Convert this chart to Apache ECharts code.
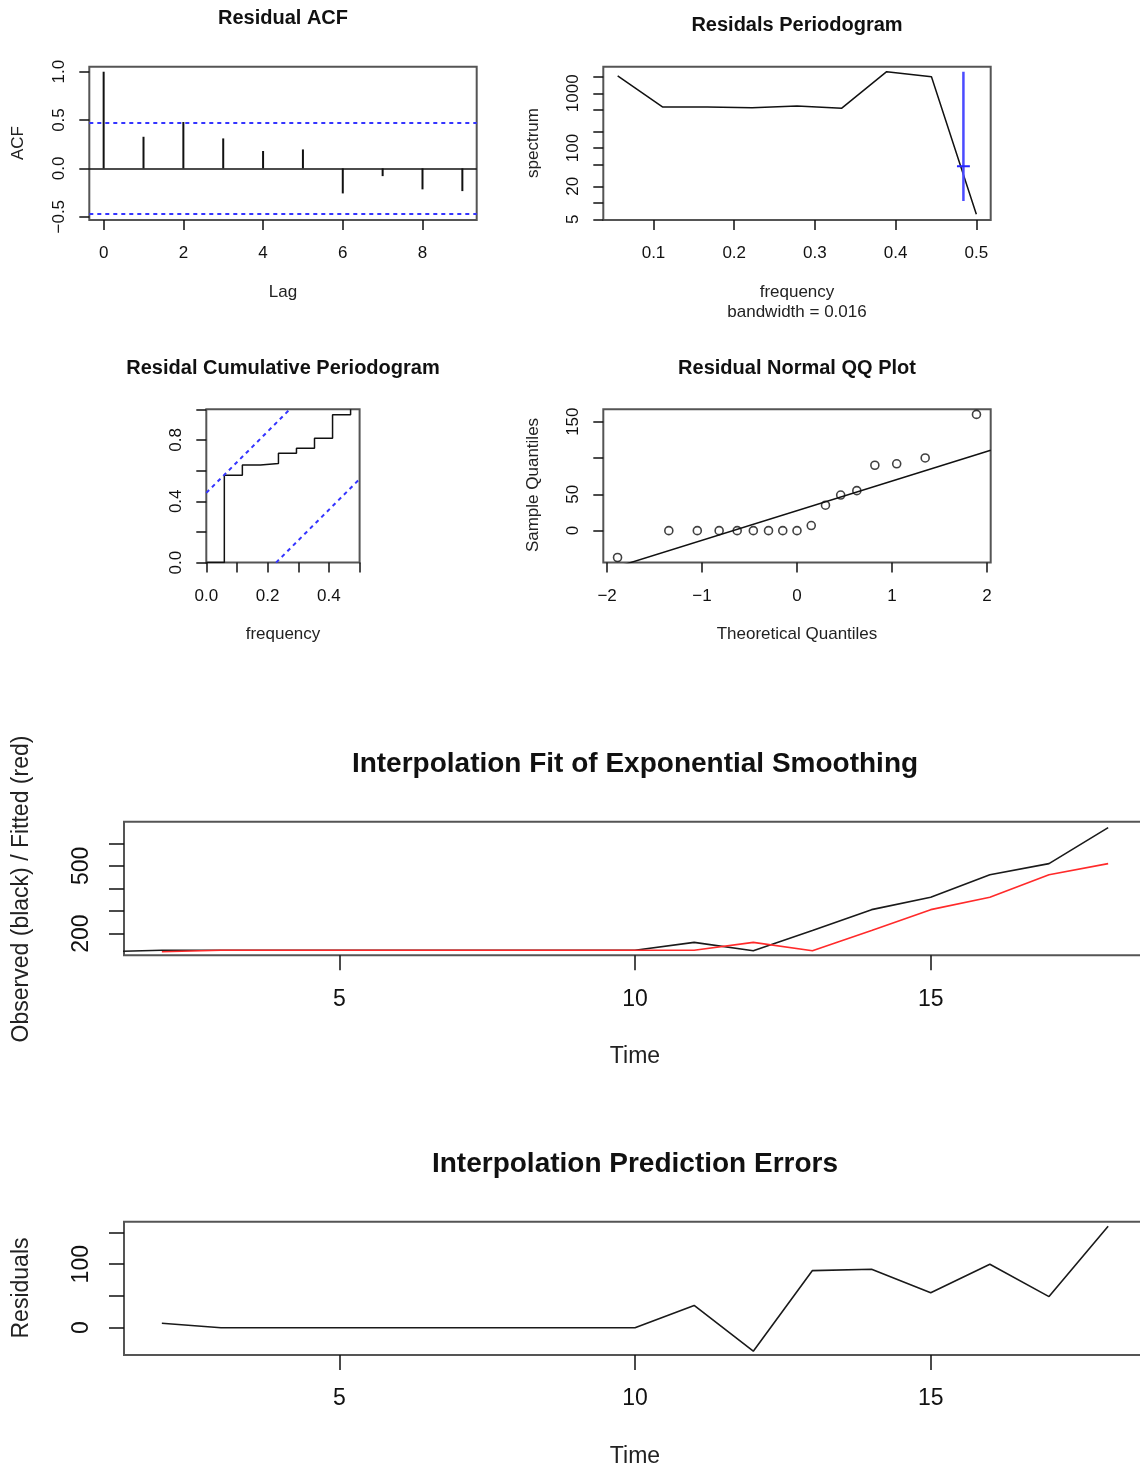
<!DOCTYPE html>
<html>
<head>
<meta charset="utf-8">
<script src="https://cdn.jsdelivr.net/npm/echarts@6/dist/echarts.min.js"></script>
<style>
  html, body { margin: 0; padding: 0; background: #ffffff; overflow: hidden; }
  /* the lower panels run slightly past the right edge of the page */
  #chart { width: 1160px; height: 1471px; }
</style>
</head>
<body>
<div id="chart"></div>
<script>
// ---- Residual autocorrelation ----
const acfLags = [0, 1, 2, 3, 4, 5, 6, 7, 8, 9];
const acfValues = [1.0, 0.327, 0.48, 0.31, 0.18, 0.196, -0.259, -0.08, -0.217, -0.235];
const acfBound = 0.475;
const acfXTicks = [0, 2, 4, 6, 8];
const acfYTicks = [-0.5, 0, 0.5, 1.0];

// ---- Raw periodogram (series padded to 18 points) ----
const pgramFreq = [0.0556, 0.1111, 0.1667, 0.2222, 0.2778, 0.3333, 0.3889, 0.4444, 0.5];
const pgramSpec = [2074, 565, 560, 545, 585, 535, 2484, 2014, 6.2];
const pgramBandFreq = [0.476, 0.484, 0.492];
const pgramBandSpec = [10.76, 46.6, 2484];
const pgramXTicks = [0.1, 0.2, 0.3, 0.4, 0.5];
const pgramYTicks = [5, 10, 20, 50, 100, 200, 500, 1000, 2000];
const pgramYLabels = [5, 20, 100, 1000];

// ---- Cumulative periodogram ----
const cpgFreq = [0, 0.0588, 0.1176, 0.1765, 0.2353, 0.2941, 0.3529, 0.4118, 0.4706];
const cpgCum = [0, 0.570, 0.636, 0.647, 0.713, 0.746, 0.811, 0.965, 1.0];
const cpgUpperX = [0, 0.2725];
const cpgUpperY = [0.455, 1.0];
const cpgLowerX = [0.2275, 0.5];
const cpgLowerY = [0, 0.545];
const cpgXTicks = [0, 0.1, 0.2, 0.3, 0.4, 0.5];
const cpgXLabels = [0, 0.2, 0.4];
const cpgYTicks = [0, 0.2, 0.4, 0.6, 0.8, 1.0];
const cpgYLabels = [0, 0.4, 0.8];

// ---- Normal QQ plot of residuals ----
const qqTheoretical = [-1.89, -1.35, -1.05, -0.82, -0.63, -0.46, -0.30, -0.15, 0, 0.15, 0.30, 0.46, 0.63, 0.82, 1.05, 1.35, 1.89];
const qqSample = [-37, 0, 0, 0, 0, 0, 0, 0, 0, 7, 35, 49, 55, 90, 92, 100, 160];
const qqLineX = [-2.04, 2.04];
const qqLineY = [-55.7, 110.7];
const qqXTicks = [-2, -1, 0, 1, 2];
const qqYTicks = [0, 50, 100, 150];
const qqYLabels = [0, 50, 150];

// ---- Observed vs fitted series ----
const obsTime = [1, 2, 3, 4, 5, 6, 7, 8, 9, 10, 11, 12, 13, 14, 15, 16, 17, 18];
const observed = [119, 126, 126, 126, 126, 126, 126, 126, 126, 126, 161, 124, 214, 306, 361, 461, 510, 670];
const fitTime = [2, 3, 4, 5, 6, 7, 8, 9, 10, 11, 12, 13, 14, 15, 16, 17, 18];
const fitted = [119, 126, 126, 126, 126, 126, 126, 126, 126, 126, 161, 124, 214, 306, 361, 461, 510];
const residuals = [7, 0, 0, 0, 0, 0, 0, 0, 0, 35, -37, 90, 92, 55, 100, 49, 160];
const timeTicks = [5, 10, 15];
const fitYTicks = [200, 300, 400, 500, 600];
const fitYLabels = [200, 500];
const resYTicks = [0, 50, 100, 150];
const resYLabels = [0, 100];

const FONT = '"Liberation Sans", Arial, sans-serif';
const INK = '#111111';
const BOX = '#555555';
const BLUE = '#3535ff';

const pair = (xs, ys) => xs.map((x, i) => [x, ys[i]]);
const minusFmt = d => v => {
  const s = d === null ? String(Math.round(v * 1000) / 1000) : v.toFixed(d);
  return s.replace('-', '\u2212');
};

function makeAxis(opt) {
  return {
    type: 'value',
    gridIndex: opt.grid,
    min: opt.min,
    max: opt.max,
    axisLine: { show: false, onZero: false },
    splitLine: { show: false },
    axisTick: {
      show: true,
      inside: false,
      length: opt.tickLen,
      customValues: opt.ticks,
      lineStyle: { color: INK, width: 1.5 }
    },
    axisLabel: {
      show: true,
      customValues: opt.labels || opt.ticks,
      margin: opt.margin,
      rotate: opt.rotate || 0,
      fontSize: opt.fontSize,
      fontFamily: FONT,
      color: INK,
      formatter: opt.formatter
    }
  };
}

const grids = [
  { left: 89.3, top: 66.7, width: 387.4, height: 153.3 },
  { left: 603.3, top: 66.7, width: 387.4, height: 153.3 },
  { left: 206.3, top: 409.3, width: 153.3, height: 153.3 },
  { left: 603.3, top: 409.3, width: 387.4, height: 153.3 },
  { left: 124, top: 821.7, width: 1022, height: 133.5 },
  { left: 124, top: 1221.7, width: 1022, height: 133.3 }
].map(g => Object.assign({ show: true, borderColor: BOX, borderWidth: 2, backgroundColor: 'transparent', containLabel: false }, g));

const SM = 17, LG = 23;
const xAxes = [
  makeAxis({ grid: 0, min: -0.36, max: 9.36, ticks: acfXTicks, tickLen: 10, margin: 25, fontSize: SM, formatter: minusFmt(null) }),
  makeAxis({ grid: 1, min: 0.0378, max: 0.5178, ticks: pgramXTicks, tickLen: 10, margin: 25, fontSize: SM, formatter: minusFmt(1) }),
  makeAxis({ grid: 2, min: 0, max: 0.5, ticks: cpgXTicks, labels: cpgXLabels, tickLen: 10, margin: 25, fontSize: SM, formatter: minusFmt(1) }),
  makeAxis({ grid: 3, min: -2.04, max: 2.04, ticks: qqXTicks, tickLen: 10, margin: 25, fontSize: SM, formatter: minusFmt(null) }),
  makeAxis({ grid: 4, min: 1.36, max: 18.64, ticks: timeTicks, tickLen: 15, margin: 32.5, fontSize: LG, formatter: minusFmt(null) }),
  makeAxis({ grid: 5, min: 1.36, max: 18.64, ticks: timeTicks, tickLen: 15, margin: 32.5, fontSize: LG, formatter: minusFmt(null) })
];
const yAxes = [
  makeAxis({ grid: 0, min: -0.534, max: 1.052, ticks: acfYTicks, tickLen: 10, margin: 21.5, rotate: 90, fontSize: SM, formatter: minusFmt(1) }),
  makeAxis({ grid: 1, min: 0.686, max: 3.486, ticks: pgramYTicks.map(Math.log10), labels: pgramYLabels.map(Math.log10), tickLen: 10, margin: 21.5, rotate: 90, fontSize: SM,
             formatter: v => String(Math.round(Math.pow(10, v))) }),
  makeAxis({ grid: 2, min: 0, max: 1, ticks: cpgYTicks, labels: cpgYLabels, tickLen: 10, margin: 21.5, rotate: 90, fontSize: SM, formatter: minusFmt(1) }),
  makeAxis({ grid: 3, min: -44, max: 167, ticks: qqYTicks, labels: qqYLabels, tickLen: 10, margin: 21.5, rotate: 90, fontSize: SM, formatter: minusFmt(null) }),
  makeAxis({ grid: 4, min: 104, max: 696, ticks: fitYTicks, labels: fitYLabels, tickLen: 15, margin: 30.5, rotate: 90, fontSize: LG, formatter: minusFmt(null) }),
  makeAxis({ grid: 5, min: -43, max: 167, ticks: resYTicks, labels: resYLabels, tickLen: 15, margin: 30.5, rotate: 90, fontSize: LG, formatter: minusFmt(null) })
];

const plainLine = (idx, data, color, width, extra) => Object.assign({
  type: 'line', xAxisIndex: idx, yAxisIndex: idx, data: data,
  symbol: 'none', showSymbol: false, clip: true, silent: true,
  lineStyle: { color: color, width: width }
}, extra || {});

const series = [
  {
    type: 'bar', xAxisIndex: 0, yAxisIndex: 0, silent: true,
    data: pair(acfLags, acfValues), barWidth: 2,
    itemStyle: { color: INK },
    markLine: {
      silent: true, symbol: ['none', 'none'], label: { show: false },
      data: [
        { yAxis: 0, lineStyle: { color: INK, type: 'solid', width: 1.5 } },
        { yAxis: acfBound, lineStyle: { color: BLUE, type: [4, 4], width: 2 } },
        { yAxis: -acfBound, lineStyle: { color: BLUE, type: [4, 4], width: 2 } }
      ]
    }
  },
  plainLine(1, pair(pgramFreq, pgramSpec.map(Math.log10)), INK, 1.5),
  plainLine(1, [[pgramBandFreq[1], Math.log10(pgramBandSpec[0])], [pgramBandFreq[1], Math.log10(pgramBandSpec[2])]], '#4b4bff', 2.5),
  plainLine(1, [[pgramBandFreq[0], Math.log10(pgramBandSpec[1])], [pgramBandFreq[2], Math.log10(pgramBandSpec[1])]], '#2525ff', 2),
  plainLine(2, pair(cpgFreq, cpgCum), INK, 1.5, { step: 'end' }),
  plainLine(2, pair(cpgUpperX, cpgUpperY), BLUE, 2, { lineStyle: { color: BLUE, width: 2, type: [4, 4] } }),
  plainLine(2, pair(cpgLowerX, cpgLowerY), BLUE, 2, { lineStyle: { color: BLUE, width: 2, type: [4, 4] } }),
  {
    type: 'scatter', xAxisIndex: 3, yAxisIndex: 3, silent: true,
    data: pair(qqTheoretical, qqSample),
    symbol: 'circle', symbolSize: 8,
    itemStyle: { color: 'rgba(255,255,255,0)', borderColor: INK, borderWidth: 1.6 }
  },
  plainLine(3, pair(qqLineX, qqLineY), INK, 1.5),
  plainLine(4, pair(obsTime, observed), '#1a1a1a', 1.6),
  plainLine(4, pair(fitTime, fitted), '#ff2a2a', 1.6),
  plainLine(5, pair(fitTime, residuals), '#1a1a1a', 1.6)
];

const txt = (text, x, y, size, opts) => {
  opts = opts || {};
  return {
    type: 'text', x: x, y: y, rotation: opts.vertical ? Math.PI / 2 : 0, silent: true,
    style: {
      text: text,
      font: (opts.bold ? 'bold ' : '') + size + 'px ' + FONT,
      fill: opts.color || INK,
      align: 'center', verticalAlign: 'middle',
      textAlign: 'center', textVerticalAlign: 'middle'
    }
  };
};

const TT = 20, BT = 28;
const graphic = [
  txt('Residual ACF', 283, 18, TT, { bold: true }),
  txt('ACF', 18, 143, SM, { vertical: true, color: '#222' }),
  txt('Lag', 283, 292, SM, { color: '#222' }),

  txt('Residals Periodogram', 797, 25, TT, { bold: true }),
  txt('spectrum', 533, 143, SM, { vertical: true, color: '#222' }),
  txt('frequency', 797, 292, SM, { color: '#222' }),
  txt('bandwidth = 0.016', 797, 312, SM, { color: '#222' }),

  txt('Residal Cumulative Periodogram', 283, 368, TT, { bold: true }),
  txt('frequency', 283, 634, SM, { color: '#222' }),

  txt('Residual Normal QQ Plot', 797, 368, TT, { bold: true }),
  txt('Sample Quantiles', 533, 485, SM, { vertical: true, color: '#222' }),
  txt('Theoretical Quantiles', 797, 634, SM, { color: '#222' }),

  txt('Interpolation Fit of Exponential Smoothing', 635, 764, BT, { bold: true }),
  txt('Observed (black) / Fitted (red)', 22, 889, LG, { vertical: true, color: '#222' }),
  txt('Time', 635, 1057, LG, { color: '#222' }),

  txt('Interpolation Prediction Errors', 635, 1164, BT, { bold: true }),
  txt('Residuals', 22, 1288, LG, { vertical: true, color: '#222' }),
  txt('Time', 635, 1457, LG, { color: '#222' })
];

const chart = echarts.init(document.getElementById('chart'), null, { renderer: 'canvas' });
chart.setOption({
  animation: false,
  backgroundColor: '#ffffff',
  grid: grids,
  xAxis: xAxes,
  yAxis: yAxes,
  series: series,
  graphic: graphic
});
</script>
</body>
</html>
